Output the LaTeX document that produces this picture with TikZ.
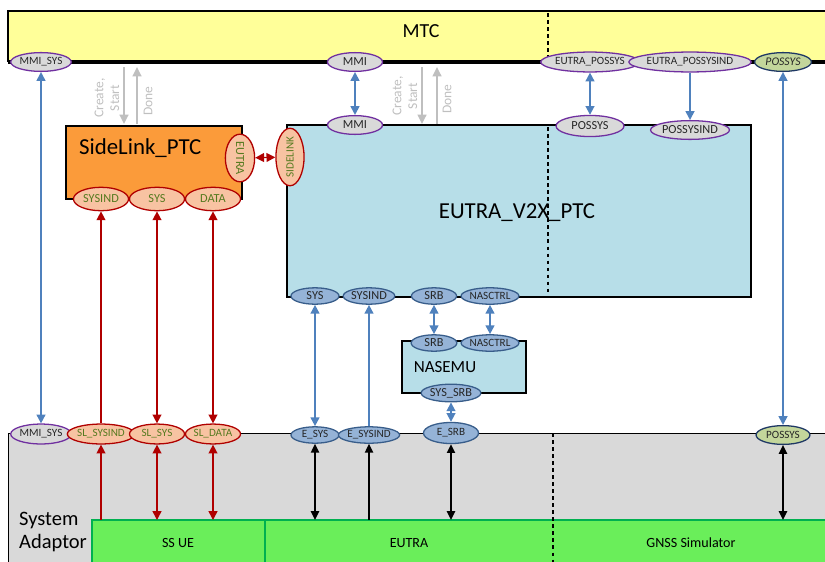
\documentclass[tikz,border=0pt]{standalone}
\usepackage{fontspec}
\setmainfont{Carlito}
\usetikzlibrary{shapes.geometric,arrows.meta}
\definecolor{mtcY}{HTML}{FFFF99}
\definecolor{ptcB}{HTML}{B7DEE8}
\definecolor{slO}{HTML}{FB9B3A}
\definecolor{saG}{HTML}{D9D9D9}
\definecolor{grnF}{HTML}{6AEE5A}
\definecolor{grnD}{HTML}{00B050}
\definecolor{purp}{HTML}{7030A0}
\definecolor{peach}{HTML}{F8C3A2}
\definecolor{dred}{HTML}{B00000}
\definecolor{olive}{HTML}{557A1F}
\definecolor{bluF}{HTML}{95B3D7}
\definecolor{bluD}{HTML}{385D8A}
\definecolor{arrB}{HTML}{4F81BD}
\definecolor{posG}{HTML}{C3D69B}
\definecolor{darkN}{HTML}{1F3864}
\definecolor{arrR}{HTML}{B00000}
\definecolor{grayA}{HTML}{BFBFBF}
\begin{document}
\begin{tikzpicture}[x=0.03cm,y=-0.03cm,
 ell/.style={ellipse,inner sep=0pt,line width=1.1pt,font=\fontsize{10.5}{11}\selectfont},
 sm/.style={font=\fontsize{9.5}{10}\selectfont},
 gry/.style={ell,draw=purp,fill=saG,text=black!85},
 pch/.style={ell,draw=dred,fill=peach,text=olive},
 blu/.style={ell,draw=bluD,fill=bluF,text=black!85},
 pgr/.style={ell,draw=darkN,fill=posG,text=black!85},
 ew/.style={minimum width=#1pt},
 eh/.style={minimum height=#1pt},
 barr/.style={draw=arrB,line width=1.5pt,>={Triangle[length=7.5pt,width=7.5pt]}},
 rarr/.style={draw=arrR,line width=1.2pt,>={Triangle[length=7.5pt,width=7.5pt]}},
 karr/.style={draw=black,line width=1.3pt,>={Triangle[length=7.5pt,width=7pt]}},
 garr/.style={draw=grayA,line width=1.7pt,>={Triangle[length=8pt,width=7.5pt]}},
 glab/.style={rotate=90,align=center,text=grayA,font=\fontsize{11.5}{13.5}\selectfont},
 big/.style={font=\fontsize{19.5}{22}\selectfont},
 gbl/.style={font=\fontsize{12}{14}\selectfont}
]
\useasboundingbox (0,0) rectangle (825,561);
% System adaptor
\draw[fill=saG,line width=0.8pt] (8,433) rectangle (830,565);
\fill[grnF] (92,520) rectangle (830,565);
\draw[grnD,line width=2.2pt] (92,565) -- (92,520) -- (830,520);
\draw[grnD,line width=1.5pt] (265,520) -- (265,565);
\draw[dashed,line width=0.9pt] (553,433) -- (553,565);
\coordinate (gtop) at (0,520);
\node[gbl] (ssue) at (178,543) {SS UE};
\node[gbl] (eutraSA) at (409,543) {EUTRA};
\node[gbl] (gnss) at (691,543) {GNSS Simulator};
\node[anchor=west,align=left,font=\fontsize{17.5}{19}\selectfont] (sa) at (15,532) {System\\Adaptor};
% MTC
\fill[mtcY] (8,11) rectangle (830,62);
\draw[line width=1pt] (830,11) -- (8,11) -- (8,62);
\draw[line width=2.6pt] (8,62) -- (830,62);
\draw[dashed,line width=0.9pt] (548,13) -- (548,61);
\node[font=\fontsize{17}{20}\selectfont] (mtc) at (421,31) {MTC};
% EUTRA_V2X_PTC
\draw[fill=ptcB,line width=1.2pt] (287,125) rectangle (751,297);
\draw[dashed,line width=0.9pt] (548,127) -- (548,295);
\node[big] (v2x) at (517,213) {EUTRA\_V2X\_PTC};
% SideLink_PTC
\draw[fill=slO,line width=1.4pt] (66,126) rectangle (242,199);
\node[big,anchor=west] (slptc) at (75,148) {SideLink\_PTC};
% NASEMU
\draw[fill=ptcB,line width=1.2pt] (402,341) rectangle (526,393);
\node[font=\fontsize{14.5}{16}\selectfont] (nasemu) at (445,367) {NASEMU};
% top ellipses (MTC)
\node[gry,sm,ew=47,eh=16] (mmisysT) at (41,62) {MMI\_SYS};
\node[gry,ew=47,eh=16] (mmiT) at (355,62) {MMI};
\node[gry,sm,ew=70,eh=17] (epsT) at (590,62) {EUTRA\_POSSYS};
\node[gry,sm,ew=81,eh=17] (epsiT) at (690,62) {EUTRA\_POSSYSIND};
\node[pgr,ew=48.5,eh=16,font=\fontsize{10}{10}\selectfont\itshape] (posT) at (783,62) {POSSYS};
% EUTRA box top
\node[gry,ew=47,eh=16] (mmiE) at (355,125) {MMI};
\node[gry,ew=58,eh=18] (posE) at (590,126) {POSSYS};
\node[gry,ew=57,eh=16] (posiE) at (690,130) {POSSYSIND};
% SideLink ports
\node[pch,ew=47,eh=20] (slSysind) at (101,199) {SYSIND};
\node[pch,ew=47,eh=20] (slSys) at (157,199) {SYS};
\node[pch,ew=47,eh=20] (slData) at (213,199) {DATA};
\node[pch,ew=37.5,eh=25,rotate=-90] (eutraV) at (240,158) {EUTRA};
\node[pch,sm,ew=37.5,eh=24,rotate=90] (sidelinkV) at (290,157) {SIDELINK};
% EUTRA box bottom
\node[blu,ew=41,eh=14] (sysE) at (315,296) {SYS};
\node[blu,ew=44,eh=14] (sysindE) at (369,296) {SYSIND};
\node[blu,ew=38.5,eh=14] (srbE) at (434,296) {SRB};
\node[blu,sm,ew=47,eh=14] (nasE) at (490,296) {NASCTRL};
% NASEMU ports
\node[blu,ew=39,eh=14] (srbN) at (434,343) {SRB};
\node[blu,sm,ew=46,eh=14] (nasN) at (490,343) {NASCTRL};
\node[blu,ew=46,eh=15] (syssrbN) at (451,393) {SYS\_SRB};
% SA ports
\node[gry,sm,ew=47,eh=17] (mmisysB) at (41,434) {MMI\_SYS};
\node[pch,sm,ew=47,eh=17] (slSysindB) at (101,434) {SL\_SYSIND};
\node[pch,sm,ew=47,eh=17] (slSysB) at (157,434) {SL\_SYS};
\node[pch,sm,ew=47,eh=17] (slDataB) at (213,434) {SL\_DATA};
\node[blu,sm,ew=41,eh=14] (esys) at (315,435) {E\_SYS};
\node[blu,sm,ew=48,eh=14] (esysind) at (369,435) {E\_SYSIND};
\node[blu,sm,ew=47,eh=18] (esrb) at (451,433) {E\_SRB};
\node[pgr,sm,ew=46,eh=16] (posB) at (783,435) {POSSYS};
% blue connectors
\draw[barr,<->] (mmisysT) -- (mmisysB);
\draw[barr,<->] (mmiT) -- (mmiE);
\draw[barr,<->] (epsT) -- (posE);
\draw[barr,->] (epsiT) -- (posiE);
\draw[barr,<->] (posT) -- (posB);
\draw[barr,<->] (sysE) -- (esys);
\draw[barr,<-] (sysindE) -- (esysind);
\draw[barr,<->] (srbE) -- (srbN);
\draw[barr,<->] (nasE) -- (nasN);
\draw[barr,<->] (syssrbN) -- (esrb);
% red connectors
\draw[rarr,<-] (slSysind) -- (slSysindB);
\draw[rarr,<->] (slSys) -- (slSysB);
\draw[rarr,<->] (slData) -- (slDataB);
\draw[rarr,<-] (slSysindB) -- (slSysindB |- gtop);
\draw[rarr,<->] (slSysB) -- (slSysB |- gtop);
\draw[rarr,<->] (slDataB) -- (slDataB |- gtop);
\draw[rarr,<->] (eutraV) -- (sidelinkV);
% black connectors
\draw[karr,<->] (esys) -- (esys |- gtop);
\draw[karr,<-] (esysind) -- (esysind |- gtop);
\draw[karr,<->] (esrb) -- (esrb |- gtop);
\draw[karr,<->] (posB) -- (posB |- gtop);
% gray create/done arrows
\coordinate (c1a) at (124,67); \coordinate (c1b) at (124,124);
\coordinate (d1a) at (137,124); \coordinate (d1b) at (137,67);
\coordinate (c2a) at (422,67); \coordinate (c2b) at (422,124);
\coordinate (d2a) at (437,124); \coordinate (d2b) at (437,67);
\draw[garr,->] (c1a) -- (c1b);
\draw[garr,->] (d1a) -- (d1b);
\draw[garr,->] (c2a) -- (c2b);
\draw[garr,->] (d2a) -- (d2b);
\node[glab] (cs1) at (107,98) {Create,\\Start};
\node[glab] (dn1) at (148,101) {Done};
\node[glab] (cs2) at (405,96) {Create,\\Start};
\node[glab] (dn2) at (447,99) {Done};
\end{tikzpicture}
\end{document}
